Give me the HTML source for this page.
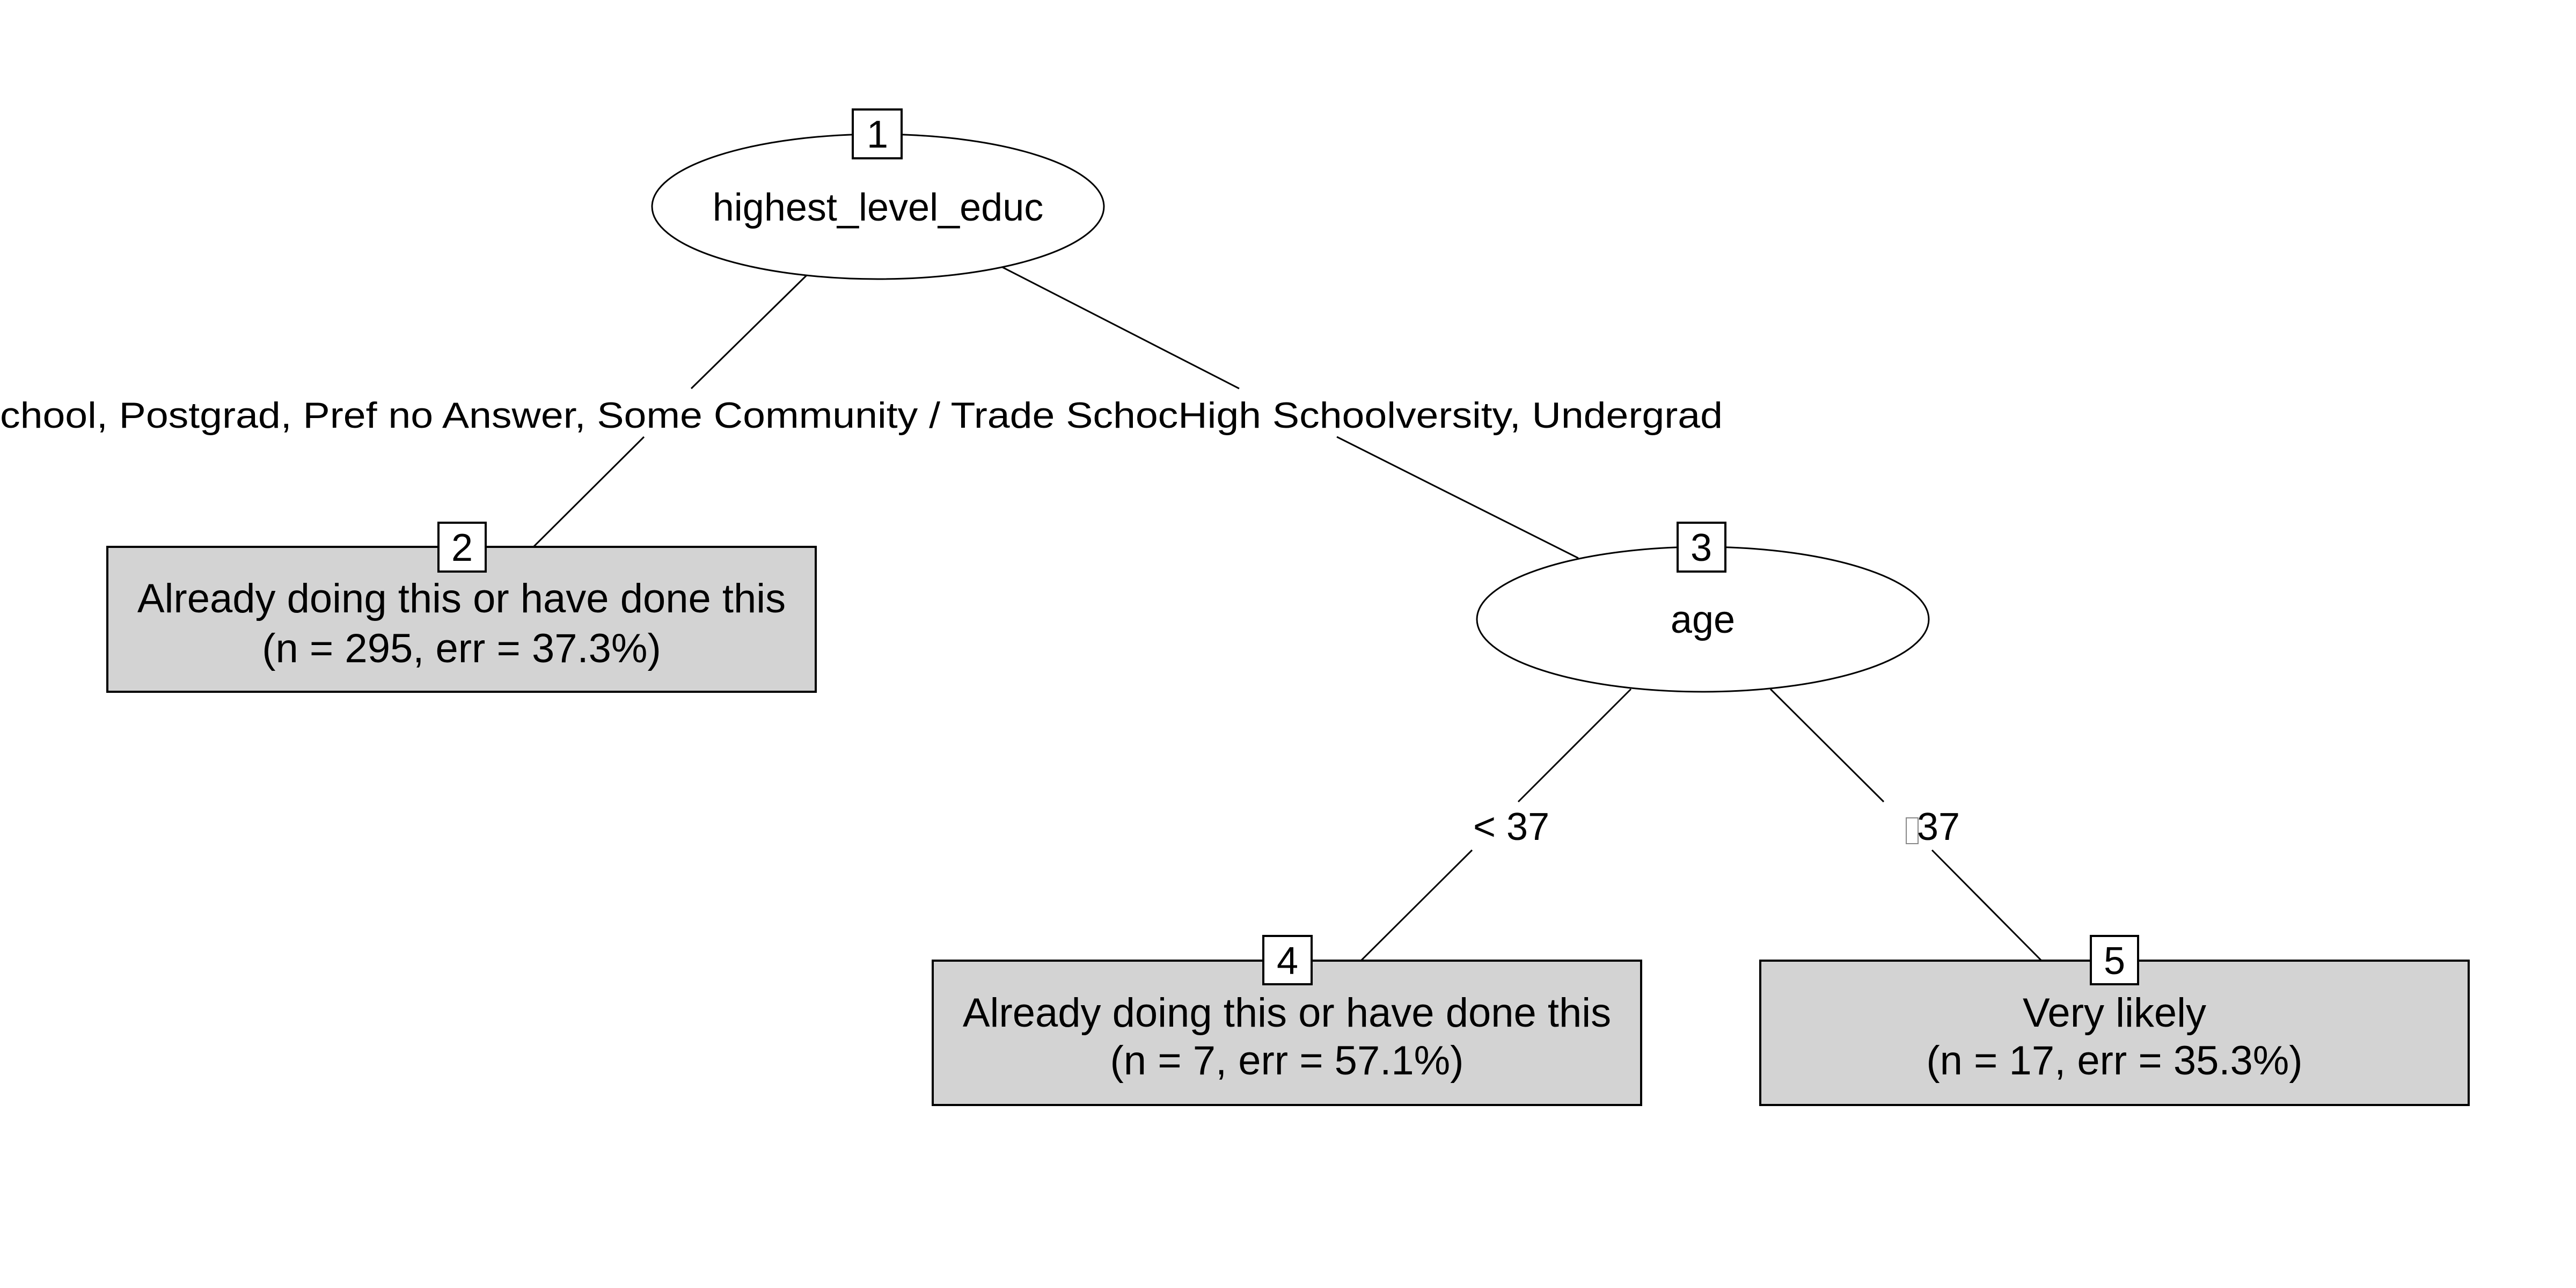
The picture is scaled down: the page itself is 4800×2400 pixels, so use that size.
<!DOCTYPE html>
<html><head><meta charset="utf-8"><style>html,body{margin:0;padding:0;background:#fff}svg{display:block}</style></head>
<body>
<svg width="4800" height="2400" viewBox="0 0 4800 2400" xmlns="http://www.w3.org/2000/svg" font-family="Liberation Sans, Arial, sans-serif">
<rect width="4800" height="2400" fill="#fff"/>
<g stroke="#000" stroke-width="3" fill="none">
<line x1="1503" y1="513" x2="1288" y2="724"/>
<line x1="1200" y1="814" x2="994" y2="1019"/>
<line x1="1868" y1="498" x2="2309" y2="724"/>
<line x1="2491" y1="814" x2="2941" y2="1040"/>
<line x1="3039" y1="1284" x2="2829" y2="1494"/>
<line x1="2743" y1="1584" x2="2536" y2="1790"/>
<line x1="3299" y1="1284" x2="3510" y2="1494"/>
<line x1="3600" y1="1584" x2="3804" y2="1790"/>
</g>
<ellipse cx="1636" cy="385" rx="421" ry="135" fill="#fff" stroke="#000" stroke-width="3"/>
<ellipse cx="3173" cy="1154" rx="421" ry="135" fill="#fff" stroke="#000" stroke-width="3"/>
<g fill="#d3d3d3" stroke="#000" stroke-width="4">
<rect x="200" y="1019" width="1320" height="270"/>
<rect x="1738" y="1790" width="1320" height="269"/>
<rect x="3280" y="1790" width="1320" height="269"/>
</g>
<g fill="#fff" stroke="#000" stroke-width="4">
<rect x="1589" y="204" width="91" height="91"/>
<rect x="817" y="974" width="88" height="91"/>
<rect x="3126" y="974" width="89" height="91"/>
<rect x="2354" y="1744" width="90" height="90"/>
<rect x="3896" y="1744" width="88" height="90"/>
</g>
<g font-size="72" text-anchor="middle" fill="#000">
<text x="1635" y="275">1</text>
<text x="861" y="1045">2</text>
<text x="3170" y="1045">3</text>
<text x="2399" y="1815">4</text>
<text x="3940" y="1815">5</text>
<text x="1636" y="411">highest_level_educ</text>
<text x="3173" y="1179">age</text>
</g>
<g font-size="76" text-anchor="middle" fill="#000">
<text x="860" y="1141">Already doing this or have done this</text>
<text x="860" y="1234">(n = 295, err = 37.3%)</text>
<text x="2398" y="1913">Already doing this or have done this</text>
<text x="2398" y="2002">(n = 7, err = 57.1%)</text>
<text x="3940" y="1913">Very likely</text>
<text x="3940" y="2002">(n = 17, err = 35.3%)</text>
</g>
<g font-size="72" fill="#000">
<text x="2745" y="1565">&lt; 37</text>
<text x="3572" y="1565">37</text>
</g>
<rect x="3552" y="1524" width="22" height="48" fill="none" stroke="#888" stroke-width="2"/>
<text x="0" y="797" font-size="68" fill="#000" textLength="3210" lengthAdjust="spacingAndGlyphs">chool, Postgrad, Pref no Answer, Some Community / Trade SchocHigh Schoolversity, Undergrad</text>
</svg>
</body></html>
